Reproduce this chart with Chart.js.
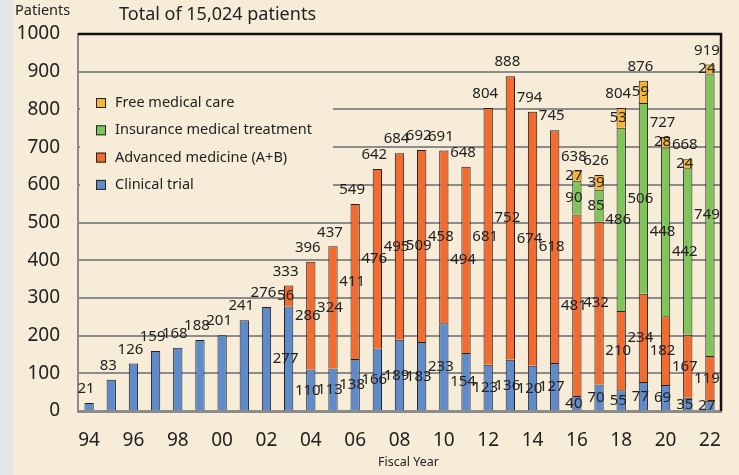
<!DOCTYPE html>
<html>
<head>
<meta charset="utf-8">
<script src="https://cdn.jsdelivr.net/npm/chart.js@4.4.0/dist/chart.umd.min.js"></script>
<style>
html, body { margin: 0; padding: 0; }
#wrap { width: 739px; height: 475px; background: linear-gradient(to right, #e3e5e9 13px, #f6ecd7 13px); }
</style>
</head>
<body>
<div id="wrap"><canvas id="patientchart" width="739" height="475"></canvas></div>
<script>
var years = ["94","95","96","97","98","99","00","01","02","03","04","05","06","07","08","09","10","11","12","13","14","15","16","17","18","19","20","21","22"];
var clinicalTrial = [21, 83, 126, 159, 168, 188, 201, 241, 276, 277, 110, 113, 138, 166, 189, 183, 233, 154, 123, 136, 120, 127, 40, 70, 55, 77, 69, 35, 27];
var advancedMedicine = [0, 0, 0, 0, 0, 0, 0, 0, 0, 56, 286, 324, 411, 476, 495, 509, 458, 494, 681, 752, 674, 618, 481, 432, 210, 234, 182, 167, 119];
var insuranceTreatment = [0, 0, 0, 0, 0, 0, 0, 0, 0, 0, 0, 0, 0, 0, 0, 0, 0, 0, 0, 0, 0, 0, 90, 85, 486, 506, 448, 442, 749];
var freeCare = [0, 0, 0, 0, 0, 0, 0, 0, 0, 0, 0, 0, 0, 0, 0, 0, 0, 0, 0, 0, 0, 0, 27, 39, 53, 59, 28, 24, 24];
var yTicks = [0, 100, 200, 300, 400, 500, 600, 700, 800, 900, 1000];

var bgColor = '#f6ecd7';
var fontName = '"Noto Sans", "DejaVu Sans", sans-serif';

// value labels, legend box, header texts and frame
var extrasPlugin = {
    id: 'extras',
    beforeDatasetsDraw: function(chart) {
        var ctx = chart.ctx;
        var area = chart.chartArea;
        ctx.save();
        ctx.fillStyle = bgColor;
        ctx.fillRect(area.left + 2, 88, 253, 112);
        var items = [3, 2, 1, 0];
        ctx.font = '14.5px ' + fontName;
        ctx.textBaseline = 'middle';
        items.forEach(function(di, k) {
            var ds = chart.data.datasets[di];
            var cy = 103 + k * 27.3;
            ctx.fillStyle = ds.backgroundColor;
            ctx.fillRect(area.left + 18, cy - 5, 10, 10);
            ctx.strokeStyle = '#222';
            ctx.lineWidth = 1;
            ctx.strokeRect(area.left + 18.5, cy - 4.5, 9, 9);
            ctx.fillStyle = '#222';
            ctx.fillText(ds.label, area.left + 37, cy);
        });
        ctx.restore();
    },
    afterDatasetsDraw: function(chart) {
        var ctx = chart.ctx;
        var yScale = chart.scales.y;
        var sets = chart.data.datasets;
        ctx.save();
        ctx.font = '15px ' + fontName;
        ctx.fillStyle = '#222';
        ctx.textAlign = 'center';
        ctx.textBaseline = 'middle';
        years.forEach(function(yr, i) {
            var x = chart.getDatasetMeta(0).data[i].x - 3;
            var total = 0, count = 0;
            sets.forEach(function(ds) { if (ds.data[i] > 0) { total += ds.data[i]; count++; } });
            if (count > 1) {
                var base = 0;
                sets.forEach(function(ds) {
                    var v = ds.data[i];
                    if (v > 0) {
                        ctx.fillText(v, x, yScale.getPixelForValue(base + v / 2));
                        base += v;
                    }
                });
            }
            ctx.fillText(total, x, yScale.getPixelForValue(total) - 14);
        });
        ctx.restore();
    },
    afterDraw: function(chart) {
        var ctx = chart.ctx;
        var area = chart.chartArea;
        ctx.save();
        ctx.strokeStyle = '#111';
        ctx.lineWidth = 2.5;
        ctx.beginPath();
        ctx.moveTo(area.left, area.top);
        ctx.lineTo(area.right, area.top);
        ctx.lineTo(area.right, area.bottom);
        ctx.stroke();
        ctx.fillStyle = '#222';
        ctx.textBaseline = 'middle';
        ctx.font = '14.5px ' + fontName;
        ctx.fillText('Patients', 15, 11);
        ctx.font = '18px ' + fontName;
        ctx.fillText('Total of 15,024 patients', 119, 15);
        ctx.font = '12.5px ' + fontName;
        ctx.fillText('Fiscal Year', 378, 462);
        ctx.restore();
    }
};

var ctx = document.getElementById('patientchart').getContext('2d');
var myChart = new Chart(ctx, {
    type: 'bar',
    data: {
        labels: years,
        datasets: [
            { label: 'Clinical trial', data: clinicalTrial, backgroundColor: '#5f8bcb' },
            { label: 'Advanced medicine (A+B)', data: advancedMedicine, backgroundColor: '#f26b2f' },
            { label: 'Insurance medical treatment', data: insuranceTreatment, backgroundColor: '#82c45c' },
            { label: 'Free medical care', data: freeCare, backgroundColor: '#f7b532' }
        ]
    },
    options: {
        responsive: false,
        animation: false,
        layout: { padding: { top: 34, right: 12, left: 0, bottom: 0 } },
        datasets: {
            bar: {
                borderColor: '#222',
                borderWidth: 1,
                barPercentage: 0.42,
                categoryPercentage: 1
            }
        },
        scales: {
            x: {
                stacked: true,
                grid: { display: false, drawTicks: false },
                border: { color: '#8c8c8c', width: 3 },
                ticks: {
                    autoSkip: false,
                    maxRotation: 0,
                    padding: 18,
                    color: '#222',
                    font: { family: fontName, size: 19 },
                    callback: function(val, index) {
                        return index % 2 === 0 ? this.getLabelForValue(val) : '';
                    }
                },
                afterFit: function(scale) { scale.height = 64; }
            },
            y: {
                stacked: true,
                min: 0,
                max: 1000,
                afterBuildTicks: function(scale) {
                    scale.ticks = yTicks.map(function(v) { return { value: v }; });
                },
                grid: {
                    drawTicks: false,
                    color: '#8c8c8c',
                    lineWidth: 2
                },
                border: { color: '#8c8c8c', width: 2 },
                ticks: {
                    padding: 18,
                    color: '#222',
                    font: { family: fontName, size: 19 },
                    callback: function(value) { return String(value); }
                },
                afterFit: function(scale) { scale.width = 78; }
            }
        },
        plugins: {
            legend: { display: false },
            tooltip: { enabled: false }
        }
    },
    plugins: [extrasPlugin]
});
</script>
</body>
</html>
